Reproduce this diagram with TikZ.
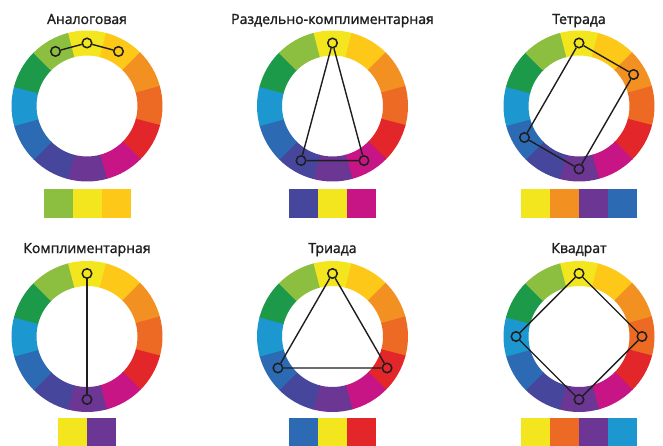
\documentclass[tikz,border=0pt]{standalone}
\usepackage{fontspec}
\setmainfont{Open Sans}
\newfontfamily\titlefont{Open Sans}[FakeBold=1.4]
\definecolor{cY}{HTML}{F4E61E}
\definecolor{cG}{HTML}{FDC817}
\definecolor{cO}{HTML}{F39022}
\definecolor{cOR}{HTML}{EC6A23}
\definecolor{cR}{HTML}{E3262A}
\definecolor{cM}{HTML}{C81585}
\definecolor{cP}{HTML}{6B3694}
\definecolor{cBV}{HTML}{46479C}
\definecolor{cB}{HTML}{2C6BB4}
\definecolor{cC}{HTML}{1C97CF}
\definecolor{cGr}{HTML}{1C9A4A}
\definecolor{cYG}{HTML}{8CBF3F}
\definecolor{ink}{HTML}{1E1E1E}
\newcommand\mywheel{%
  \foreach \c [count=\i from 0] in {cY,cG,cO,cOR,cR,cM,cP,cBV,cB,cC,cGr,cYG} {
    \pgfmathsetmacro\a{90-30*\i}
    \fill[\c] (\a+15.4:75.5) arc[start angle=\a+15.4, end angle=\a-15.4, radius=75.5]
      -- (\a-15.4:50.5) arc[start angle=\a-15.4, end angle=\a+15.4, radius=50.5] -- cycle;
  }}
\begin{document}
\begin{tikzpicture}[x=1pt,y=1pt,
  marker/.style={circle,draw=ink,line width=1.5pt,minimum size=9.5pt,inner sep=0pt},
  link/.style={draw=ink,line width=1.4pt},
  title/.style={anchor=base,text=ink,font=\titlefont\fontsize{14}{16}\selectfont},
  swatch/.style={rectangle,minimum width=29pt,minimum height=29pt,inner sep=0pt,outer sep=0pt}]
\fill[white] (0,0) rectangle (663,445);
\useasboundingbox (0,0) rectangle (663,445);

% ---------- Row 1 ----------
\node[title] (t1) at (87,421) {Аналоговая};
\begin{scope}[shift={(87,339)}]
  \mywheel
  \node[marker] (a1) at (120:63) {};
  \node[marker] (a2) at (90:63) {};
  \node[marker] (a3) at (60:63) {};
  \draw[link] (a1) -- (a2) -- (a3);
  \node[swatch,fill=cYG] (as1) at (-29,-97.5) {};
  \node[swatch,fill=cY] (as2) at (0,-97.5) {};
  \node[swatch,fill=cG] (as3) at (29,-97.5) {};
\end{scope}

\node[title] (t2) at (332.5,421) {Раздельно-комплиментарная};
\begin{scope}[shift={(332.5,339)}]
  \mywheel
  \node[marker] (b1) at (90:63) {};
  \node[marker] (b2) at (-60:63) {};
  \node[marker] (b3) at (-120:63) {};
  \draw[link] (b1) -- (b2) -- (b3) -- (b1);
  \node[swatch,fill=cBV] (bs1) at (-29,-97.5) {};
  \node[swatch,fill=cY] (bs2) at (0,-97.5) {};
  \node[swatch,fill=cM] (bs3) at (29,-97.5) {};
\end{scope}

\node[title] (t3) at (579,421) {Тетрада};
\begin{scope}[shift={(579,339)}]
  \mywheel
  \node[marker] (c1) at (90:63) {};
  \node[marker] (c2) at (30:63) {};
  \node[marker] (c3) at (-90:63) {};
  \node[marker] (c4) at (-150:63) {};
  \draw[link] (c1) -- (c2) -- (c3) -- (c4) -- (c1);
  \node[swatch,fill=cY] (cs1) at (-43.5,-97.5) {};
  \node[swatch,fill=cO] (cs2) at (-14.5,-97.5) {};
  \node[swatch,fill=cP] (cs3) at (14.5,-97.5) {};
  \node[swatch,fill=cB] (cs4) at (43.5,-97.5) {};
\end{scope}

% ---------- Row 2 ----------
\node[title] (t4) at (87,192) {Комплиментарная};
\begin{scope}[shift={(87,108.5)}]
  \mywheel
  \node[marker] (d1) at (90:63) {};
  \node[marker] (d2) at (-90:63) {};
  \draw[link] (d1) -- (d2);
  \node[swatch,fill=cY] (ds1) at (-14.5,-96) {};
  \node[swatch,fill=cP] (ds2) at (14.5,-96) {};
\end{scope}

\node[title] (t5) at (332.5,192) {Триада};
\begin{scope}[shift={(332.5,108.5)}]
  \mywheel
  \node[marker] (e1) at (90:63) {};
  \node[marker] (e2) at (-30:63) {};
  \node[marker] (e3) at (-150:63) {};
  \draw[link] (e1) -- (e2) -- (e3) -- (e1);
  \node[swatch,fill=cB] (es1) at (-29,-96) {};
  \node[swatch,fill=cY] (es2) at (0,-96) {};
  \node[swatch,fill=cR] (es3) at (29,-96) {};
\end{scope}

\node[title] (t6) at (579,192) {Квадрат};
\begin{scope}[shift={(579,108.5)}]
  \mywheel
  \node[marker] (f1) at (90:63) {};
  \node[marker] (f2) at (0:63) {};
  \node[marker] (f3) at (-90:63) {};
  \node[marker] (f4) at (180:63) {};
  \draw[link] (f1) -- (f2) -- (f3) -- (f4) -- (f1);
  \node[swatch,fill=cY] (fs1) at (-43.5,-96) {};
  \node[swatch,fill=cOR] (fs2) at (-14.5,-96) {};
  \node[swatch,fill=cP] (fs3) at (14.5,-96) {};
  \node[swatch,fill=cC] (fs4) at (43.5,-96) {};
\end{scope}
\end{tikzpicture}
\end{document}
